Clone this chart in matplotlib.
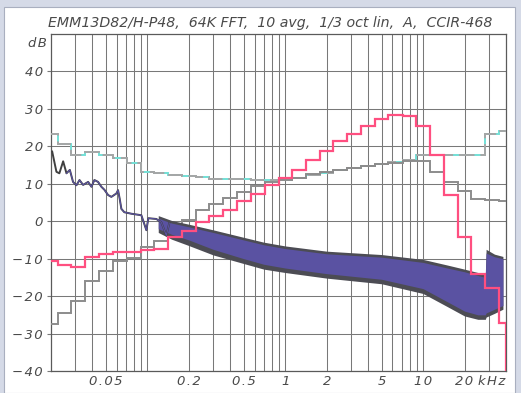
import numpy as np
import matplotlib
matplotlib.use("Agg")
import matplotlib.pyplot as plt
from matplotlib.patches import Rectangle

# ---------------- data ----------------
# 1/3-octave band centre frequencies (kHz)
band_khz = [0.02, 0.025, 0.0315, 0.04, 0.05, 0.063, 0.08, 0.1, 0.125, 0.16,
            0.2, 0.25, 0.315, 0.4, 0.5, 0.63, 0.8, 1, 1.25, 1.6,
            2, 2.5, 3.15, 4, 5, 6.3, 8, 10, 12.5, 16,
            20, 25, 31.5, 40]

# CCIR-468 weighted 1/3 octave (pink)
ccir_db = [-10.6, -11.7, -12.2, -9.5, -8.8, -8.2, -8.2, -7.6, -7.3, -4.3,
           -2.7, -0.3, 1.3, 2.9, 5.3, 7.2, 9.6, 11.5, 13.8, 16.4,
           18.8, 21.4, 23.4, 25.4, 27.2, 28.4, 28.1, 25.4, 17.8, 6.9,
           -4.3, -14.2, -17.8, -27.3]

# A weighted 1/3 octave (grey)
a_db = [-27.5, -24.6, -21.3, -16.0, -13.3, -10.5, -9.7, -7.0, -5.2, -2.5,
        0.3, 2.9, 4.7, 6.3, 7.9, 9.4, 10.4, 11.0, 11.6, 12.5,
        13.2, 13.8, 14.3, 14.8, 15.2, 15.6, 16.0, 16.0, 13.2, 10.5,
        8.2, 6.0, 5.8, 5.5]

# linear 1/3 octave (light grey / cyan)
lin_db = [23.2, 20.5, 17.8, 18.6, 17.8, 16.8, 15.5, 13.2, 12.8, 12.3,
          12.0, 11.8, 11.4, 11.3, 11.2, 11.0, 11.0, 11.0, 11.5, 12.3,
          13.0, 13.8, 14.3, 14.8, 15.3, 15.8, 16.3, 17.7, 17.7, 17.7,
          17.7, 17.7, 23.2, 24.2]

# 64K FFT spectrum, low-frequency trace (kHz, dB)
fft_low_khz = [0.0204, 0.0219, 0.0230, 0.0245, 0.0259, 0.0274, 0.0289, 0.0306,
               0.0322, 0.0342, 0.0372, 0.0393, 0.0413, 0.0439, 0.0464, 0.0488,
               0.0519, 0.0548, 0.0596, 0.0613, 0.0630, 0.0648, 0.0681, 0.0766,
               0.0905, 0.0984, 0.1017, 0.1162, 0.1263, 0.1373, 0.1443]
fft_low_db = [18.6, 13.2, 12.8, 16.0, 12.8, 13.7, 10.5, 9.6,
              11.0, 9.7, 10.5, 9.2, 11.0, 10.5, 9.2, 8.4,
              7.0, 6.5, 7.4, 8.3, 6.0, 3.3, 2.4, 2.0,
              1.6, -2.4, 0.8, 0.6, -0.3, -3.8, -0.5]

# 64K FFT spectrum, noise band envelopes above ~0.12 kHz
fft_band_khz = [0.12, 0.15, 0.2, 0.3, 0.5, 0.7, 1.0, 2.0, 5.0, 10.0,
                15.0, 20.0, 25.0, 28.3, 28.7, 33.0, 38.0]
fft_in_top = [0.8, -0.5, -1.5, -3.0, -5.0, -6.3, -7.3, -8.7, -9.6, -11.0,
              -12.5, -13.5, -14.5, -15.0, -8.5, -9.5, -10.0]
fft_in_bot = [-2.0, -3.5, -5.0, -7.5, -10.0, -11.5, -12.5, -14.0, -15.5, -18.0,
              -21.5, -24.0, -25.0, -25.0, -24.5, -23.5, -22.5]
fft_out_top = [1.5, 0.2, -0.8, -2.3, -4.3, -5.6, -6.6, -8.0, -8.9, -10.2,
               -11.7, -12.8, -13.7, -14.3, -7.5, -8.8, -9.4]
fft_out_bot = [-3.0, -4.8, -6.5, -9.0, -11.3, -12.8, -13.7, -15.2, -16.7, -19.3,
               -22.8, -25.3, -26.2, -26.2, -25.6, -24.6, -23.5]

x_ticks = [0.05, 0.2, 0.5, 1, 2, 5, 10, 20]
x_tick_labels = ["0.05", "0.2", "0.5", "1", "2", "5", "10", "20"]
y_ticks = [-40, -30, -20, -10, 0, 10, 20, 30, 40]
title = "EMM13D82/H-P48,  64K FFT,  10 avg,  1/3 oct lin,  A,  CCIR-468"

# ---------------- figure ----------------
W, H = 521, 393
fig = plt.figure(figsize=(W / 100, H / 100), dpi=100, facecolor="#d5dae7")
fig.patches.append(Rectangle((4 / W, 0), (515 - 4) / W, (H - 7) / H,
                             transform=fig.transFigure, facecolor="white",
                             edgecolor="#a9afbf", lw=0.8, zorder=-10))
ax = fig.add_axes([51 / W, 1 - 371 / H, (506 - 51) / W, (371 - 34) / H])
ax.set_zorder(5)
ax.set_facecolor("white")
ax.set_xscale("log")
ax.set_xlim(0.02, 40)
ax.set_ylim(-40, 50)

gc = "#787878"
HAIR = "\u200a"


def spaced(s):
    return HAIR.join(s)


# grid
ax.set_xticks(x_ticks)
ax.set_xticklabels([spaced(s) for s in x_tick_labels])
minor = [m * 10.0 ** e for e in (-2, -1, 0, 1) for m in range(1, 10)]
minor = [v for v in minor if 0.02 < v < 40 and v not in x_ticks]
ax.set_xticks(minor, minor=True)
ax.xaxis.set_minor_formatter(matplotlib.ticker.NullFormatter())
ax.set_yticks(y_ticks)
ax.set_yticklabels([spaced(str(v).replace("-", "\u2212")) for v in y_ticks])
ax.grid(True, which="both", axis="x", color=gc, lw=0.75)
ax.grid(True, which="major", axis="y", color=gc, lw=0.75)
ax.set_axisbelow(True)
for s in ax.spines.values():
    s.set_color("#5a5a5a")
    s.set_linewidth(0.9)

tcol = "#4a4a4a"
tf = dict(family="DejaVu Sans", style="italic", size=9.5, color=tcol)
ax.tick_params(axis="both", which="both", length=0)
ax.tick_params(axis="y", pad=3, length=3, color=gc)
ax.tick_params(axis="x", pad=3)
for lab in ax.get_xticklabels() + ax.get_yticklabels():
    lab.set_fontfamily("DejaVu Sans")
    lab.set_fontstyle("italic")
    lab.set_fontsize(9.5)
    lab.set_color(tcol)

ax.annotate(spaced("kHz"), xy=(20, 0), xycoords=("data", "axes fraction"),
            xytext=(10, -3), textcoords="offset points", ha="left", va="top", **tf)
ax.annotate(spaced("dB"), xy=(0, 1), xycoords="axes fraction",
            xytext=(-3, -2), textcoords="offset points", ha="right", va="top", **tf)
fig.text(48 / W, 1 - 23 / H, title, ha="left", va="center",
         family="DejaVu Sans", style="italic", size=10.2, color=tcol)

# ---------------- series ----------------
c = np.array(band_khz)
edges = np.concatenate([[c[0] / 2 ** (1 / 6)], np.sqrt(c[:-1] * c[1:]), [c[-1] * 2 ** (1 / 6)]])

# linear (cyan under dashed grey)
ax.stairs(lin_db, edges, baseline=None, color="#72e0d6", lw=1.4, zorder=3)
ax.stairs(lin_db, edges, baseline=None, color="#a6a6a6", lw=1.4, zorder=3.1,
          linestyle=(0, (8, 3)))
# A weighted
ax.stairs(a_db, edges, baseline=None, color="#8c8c8c", lw=1.4, zorder=3.2)

# FFT
ax.fill_between(fft_band_khz, fft_out_bot, fft_out_top, color="#4c4c54", lw=0, zorder=4)
ax.fill_between(fft_band_khz, fft_in_bot, fft_in_top, color="#5a52a2", lw=0, zorder=4.1)
ax.plot(fft_low_khz, fft_low_db, color="#404040", lw=1.4, zorder=4.2)
ax.plot(fft_low_khz[4:], fft_low_db[4:], color="#5a52a2", lw=0.8, zorder=4.3)

# CCIR-468 (pink) with drop at the right border
ccir_edges = np.append(edges[:-1], [40.0, 60.0])
ax.stairs(ccir_db + [-80], ccir_edges, baseline=None, color="#ff4f80", lw=1.6, zorder=5)

fig.savefig("out.png", dpi=100, facecolor=fig.get_facecolor())
